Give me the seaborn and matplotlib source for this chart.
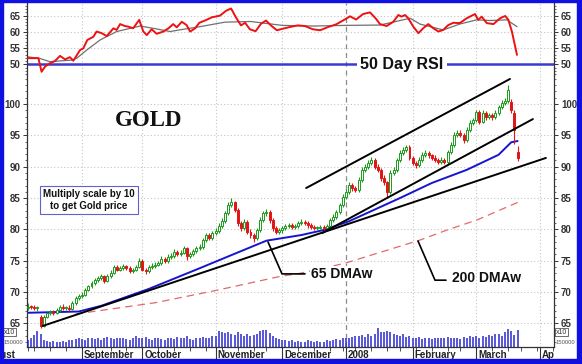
import numpy as np
import pandas as pd
import matplotlib
matplotlib.use('Agg')
import matplotlib.pyplot as plt
from matplotlib.patches import Rectangle
import seaborn as sns

# ---------------- data (price scale = gold / 10) ----------------
start_day = '2007-08-09'
end_day = '2008-04-10'
holidays = ['2007-09-03', '2007-11-22', '2007-12-25', '2008-01-01',
            '2008-01-21', '2008-02-18', '2008-03-21']
month_names = ['September', 'October', 'November', 'December',
               '2008', 'February', 'March', 'April']

opens = [67.5, 67.7, 67.6, 67.4, 66.0, 64.6, 66.1, 66.6, 66.8, 66.7,
         67.1, 67.7, 67.4, 67.5, 67.3, 68.2, 69.0, 69.3, 69.6, 70.4,
         70.9, 71.4, 71.9, 72.2, 72.5, 71.8, 72.6, 73.1, 74.0, 73.6,
         73.8, 74.1, 73.9, 73.4, 73.6, 74.0, 75.0, 73.6, 73.3, 74.0,
         74.2, 74.4, 74.6, 75.3, 75.0, 75.6, 75.8, 76.4, 76.0, 76.3,
         77.0, 75.7, 76.0, 76.5, 77.0, 77.2, 78.3, 79.1, 78.6, 79.4,
         79.8, 80.6, 81.4, 82.6, 83.9, 84.3, 83.1, 81.0, 80.2, 81.2,
         79.6, 79.1, 78.6, 79.9, 81.5, 82.6, 82.8, 81.5, 80.2, 79.6,
         79.9, 80.2, 80.5, 80.7, 80.4, 80.5, 81.0, 81.2, 81.0, 80.7,
         80.4, 80.2, 80.3, 80.4, 80.2, 80.6, 81.5, 82.0, 82.8, 83.9,
         85.2, 86.0, 87.1, 86.6, 86.3, 87.9, 89.5, 90.0, 90.6, 91.1,
         90.0, 89.5, 88.2, 87.5, 86.0, 89.0, 89.5, 91.0, 92.2, 92.7,
         93.1, 91.4, 90.6, 90.3, 91.1, 91.9, 92.2, 91.8, 91.4, 91.1,
         90.8, 91.1, 90.8, 92.3, 93.5, 95.1, 95.4, 95.1, 94.3, 95.9,
         97.0, 97.4, 98.7, 97.2, 98.6, 97.9, 98.2, 97.9, 98.6, 99.5,
         100.2, 100.5, 100.4, 98.6, 92.4]
closes = [67.7, 67.6, 67.4, 67.5, 64.6, 66.1, 66.6, 66.8, 66.7, 67.1,
          67.7, 67.4, 67.5, 67.3, 68.2, 69.0, 69.3, 69.6, 70.4, 70.9,
          71.4, 71.9, 72.2, 72.5, 71.8, 72.6, 73.1, 74.0, 73.6, 73.8,
          74.1, 73.9, 73.4, 73.6, 74.0, 75.0, 73.6, 73.3, 74.0, 74.2,
          74.4, 74.6, 75.3, 75.0, 75.6, 75.8, 76.4, 76.0, 76.3, 77.0,
          75.7, 76.0, 76.5, 77.0, 77.2, 78.3, 79.1, 78.6, 79.4, 79.8,
          80.6, 81.4, 82.6, 83.9, 84.3, 83.1, 81.0, 80.2, 81.2, 79.6,
          79.1, 78.6, 79.9, 81.5, 82.6, 82.8, 81.5, 80.2, 79.6, 79.9,
          80.2, 80.5, 80.7, 80.4, 80.5, 81.0, 81.2, 81.0, 80.7, 80.4,
          80.2, 80.3, 80.4, 80.2, 80.6, 81.5, 82.0, 82.8, 83.9, 85.2,
          86.0, 87.1, 86.6, 86.3, 87.9, 89.5, 90.0, 90.6, 91.1, 90.0,
          89.5, 88.2, 87.5, 86.0, 89.0, 89.5, 91.0, 92.2, 92.7, 93.1,
          91.4, 90.6, 90.3, 91.1, 91.9, 92.2, 91.8, 91.4, 91.1, 90.8,
          91.1, 90.8, 92.3, 93.5, 95.1, 95.4, 95.1, 94.3, 95.9, 97.0,
          97.4, 98.7, 97.2, 98.6, 97.9, 98.2, 97.9, 98.6, 99.5, 100.2,
          100.5, 102.2, 99.0, 95.9, 91.4]
highs = [68.2, 68.0, 67.9, 67.8, 66.4, 66.4, 66.9, 67.2, 67.1, 67.4,
         68.0, 68.1, 67.8, 67.9, 68.5, 69.3, 69.7, 70.0, 70.7, 71.2,
         71.7, 72.3, 72.6, 72.9, 72.8, 72.9, 73.5, 74.4, 74.3, 74.2,
         74.5, 74.4, 74.1, 73.9, 74.3, 75.4, 75.2, 73.9, 74.4, 74.6,
         74.8, 75.0, 75.7, 75.6, 76.0, 76.2, 76.8, 76.7, 76.7, 77.4,
         77.2, 76.4, 76.9, 77.4, 77.6, 78.6, 79.5, 79.4, 79.8, 80.2,
         81.0, 81.8, 83.0, 84.4, 85.0, 84.6, 83.4, 81.4, 81.7, 81.5,
         80.0, 79.4, 80.3, 81.9, 83.0, 83.3, 83.1, 81.8, 80.5, 80.3,
         80.6, 80.9, 81.1, 81.0, 80.9, 81.4, 81.6, 81.5, 81.3, 81.0,
         80.7, 80.6, 80.7, 80.7, 80.9, 81.8, 82.4, 83.1, 84.2, 85.6,
         86.4, 87.5, 87.4, 86.9, 88.3, 89.9, 90.4, 91.0, 91.6, 91.4,
         90.4, 89.8, 88.6, 87.8, 89.4, 89.9, 91.4, 92.6, 93.1, 93.5,
         93.4, 91.7, 90.9, 91.5, 92.3, 92.6, 92.5, 92.1, 91.8, 91.4,
         91.5, 91.4, 92.7, 93.9, 95.5, 95.8, 95.8, 95.4, 96.3, 97.4,
         97.8, 99.1, 99.0, 99.0, 98.9, 98.6, 98.5, 99.0, 99.9, 100.6,
         101.0, 103.0, 100.8, 99.0, 93.3]
lows = [67.2, 67.3, 67.1, 67.0, 64.3, 64.4, 65.8, 66.3, 66.4, 66.5,
        66.9, 67.1, 67.1, 67.0, 67.1, 67.9, 68.7, 69.0, 69.4, 70.1,
        70.6, 71.1, 71.6, 71.9, 71.4, 71.6, 72.3, 72.9, 73.3, 73.3,
        73.5, 73.6, 73.1, 73.1, 73.3, 73.8, 73.3, 72.9, 73.0, 73.7,
        73.9, 74.1, 74.3, 74.7, 74.7, 75.3, 75.5, 75.7, 75.7, 76.0,
        75.1, 75.4, 75.7, 76.2, 76.7, 76.9, 78.0, 78.3, 78.3, 79.1,
        79.5, 80.3, 81.1, 82.3, 83.5, 82.7, 80.6, 79.8, 79.9, 79.2,
        78.6, 78.0, 78.3, 79.6, 81.2, 82.2, 81.1, 79.8, 79.2, 79.2,
        79.5, 79.9, 80.2, 80.1, 80.1, 80.2, 80.7, 80.7, 80.3, 80.0,
        79.9, 79.9, 80.0, 79.9, 79.9, 80.3, 81.2, 81.7, 82.5, 83.6,
        84.9, 85.7, 86.2, 85.9, 86.0, 87.6, 89.1, 89.7, 90.3, 89.6,
        89.1, 87.8, 87.1, 85.0, 85.7, 88.6, 89.2, 90.7, 91.9, 92.3,
        91.0, 90.2, 89.8, 90.0, 90.8, 91.6, 91.4, 91.0, 90.7, 90.4,
        90.4, 90.4, 90.5, 92.0, 93.2, 94.8, 94.7, 93.8, 94.0, 95.6,
        96.6, 97.1, 96.8, 96.9, 97.5, 97.6, 97.5, 97.6, 98.3, 99.2,
        99.8, 100.2, 98.6, 93.6, 90.9]
volume = [55, 65, 90, 120, 100, 50, 45, 40, 45, 40,
          35, 45, 40, 50, 55, 60, 65, 60, 55, 65,
          70, 60, 65, 55, 70, 75, 65, 60, 70, 65,
          70, 60, 55, 65, 80, 70, 65, 75, 60, 55,
          65, 70, 60, 55, 65, 70, 60, 75, 65, 70,
          80, 60, 55, 65, 70, 75, 65, 70, 80, 85,
          120, 110, 105, 115, 100, 90, 110, 95, 85, 100,
          80, 90, 95, 120, 130, 125, 105, 85, 70, 60,
          55, 50, 45, 55, 40, 45, 35, 40, 50, 45,
          40, 45, 35, 40, 50, 45, 55, 60, 55, 70,
          65, 70, 75, 80, 85, 90, 75, 100, 85, 95,
          140, 110, 115, 120, 110, 100, 90, 80, 95, 75,
          80, 70, 65, 75, 60, 70, 65, 60, 70, 65,
          70, 65, 75, 70, 65, 70, 60, 75, 70, 80,
          75, 80, 70, 85, 75, 90, 80, 95, 100, 85,
          110, 135, 120, 90, 125]

# moving averages (trading-day position, value)
ma65_pos = [0, 16, 23, 38, 54, 64, 75, 86, 93, 101, 117, 127, 138, 148, 152, 154]
ma65_val = [66.7, 66.9, 67.8, 70.5, 73.8, 75.9, 78.2, 79.1, 79.9, 81.3,
            85.0, 87.4, 89.5, 91.9, 93.9, 94.1]
ma200_pos = [15, 40, 59.5, 79.3, 85.6, 99.7, 123.3, 131.8, 141.2, 154]
ma200_val = [66.5, 68.3, 70.3, 72.5, 73.0, 74.6, 78.3, 79.9, 81.5, 84.3]

# 50 day RSI and its smoothing
rsi_pos = [0, 3.3, 4.3, 5.4, 6.9, 8.5, 10.1, 11.7, 13.2, 14.3,
           16.4, 17.4, 18.7, 20.6, 21.6, 23.2, 24.8, 26.9, 27.9, 29.0,
           30.5, 31.6, 33.1, 35.0, 36.3, 37.4, 38.9, 40.5, 42.6, 44.2,
           45.7, 46.8, 48.4, 49.9, 51.0, 52.6, 53.9, 55.7, 57.9, 60.4,
           62.3, 63.9, 65.4, 67.0, 68.3, 69.8, 71.6, 73.3, 74.9, 76.4,
           78.3, 80.3, 82.4, 84.9, 87.1, 89.6, 91.9, 94.4, 96.9, 99.1,
           101.3, 103.2, 105.4, 107.6, 109.5, 110.7, 112.8, 114.9, 116.5, 117.5,
           118.6, 119.6, 121.2, 122.8, 124.3, 125.9, 127.5, 129.1, 130.6, 132.2,
           133.8, 135.8, 138.0, 140.6, 141.6, 142.7, 144.3, 146.4, 148.5, 150.1,
           151.1, 152.2, 153.8]
rsi_val = [51.9, 51.9, 47.7, 49.3, 50.3, 51.0, 52.6, 51.5, 52.2, 51.1,
           54.4, 54.9, 57.5, 58.5, 60.1, 59.6, 58.7, 61.1, 60.6, 62.4,
           61.8, 61.6, 61.1, 63.7, 60.1, 59.0, 60.8, 59.4, 60.1, 61.1,
           62.4, 61.4, 63.1, 62.1, 60.1, 61.1, 62.8, 63.5, 64.5, 65.0,
           66.5, 67.2, 64.5, 62.0, 62.8, 60.8, 60.2, 62.5, 63.5, 62.0,
           60.5, 61.0, 61.5, 62.0, 61.8, 60.8, 60.5, 61.5, 62.3, 63.5,
           64.8, 63.8, 65.5, 66.0, 64.0, 62.4, 61.8, 63.1, 65.2, 64.7,
           65.2, 64.2, 61.6, 59.6, 61.1, 62.4, 61.1, 60.1, 60.6, 62.1,
           62.8, 62.7, 64.2, 65.5, 63.7, 64.7, 62.7, 62.4, 64.2, 64.9,
           63.7, 60.1, 52.9]
sig_pos = [0, 3.8, 6.9, 13.8, 15.4, 18.5, 22.7, 27.9, 35.3, 39.4, 44.7, 48.9, 54.1,
           62, 70, 80, 90, 100, 110.7, 120.2, 123.3, 130.6, 135.8, 141.1, 145.3,
           150.6, 153.8]
sig_val = [52.3, 51.8, 50.8, 51.3, 51.9, 54.4, 57.5, 60.1, 61.8, 61.1, 60.1, 60.8, 61.6,
           63.0, 63.2, 62.0, 61.8, 62.0, 62.1, 64.2, 62.4, 60.6, 62.4, 63.7, 63.5,
           63.7, 61.6]

# hand drawn trend lines: (start pos, start value, end pos, end value)
trend_lines = [(4.65, 64.6, 162.9, 91.4),
               (92.5, 79.4, 158.8, 97.6),
               (87.5, 86.6, 151.6, 104.0)]

# ---------------- layout helpers ----------------
W, H = 582, 364
PX0, PXD = 27.9, 3.18  # pixel of first session, pixels per session


def px_axes(fig, x0, y0, x1, y1):
    return fig.add_axes([x0 / W, 1 - y1 / H, (x1 - x0) / W, (y1 - y0) / H])


def px_to_pos(px):
    return (px - PX0) / PXD


sns.set_theme(style='white')
plt.rcParams['font.family'] = ['Liberation Sans', 'DejaVu Sans']

days = pd.bdate_range(start_day, end_day)
days = days[~days.isin(pd.to_datetime(holidays))]
pos = np.arange(len(days))
ser = pd.Series(pos, index=days)
month_first = ser.groupby([days.year, days.month]).first().values[1:]
week_first = ser.groupby(days.to_period('W')).first().values

fig = plt.figure(figsize=(W / 100, H / 100), dpi=100)
fig.patch.set_facecolor('white')

ax_r = px_axes(fig, 27, 3, 554, 75)
ax_p = px_axes(fig, 27, 75, 554, 347)
ax_v = px_axes(fig, 27, 325, 554, 347)
ax_l = px_axes(fig, 0, 347, 554, 362)

xlim = (px_to_pos(27), px_to_pos(554))
grid_c = '#c4c4c4'
tick_c = '#333333'

# ---- common grid ----
for ax in (ax_r, ax_p):
    ax.set_xlim(xlim)
    for m, p in zip(month_names, month_first):
        if m == '2008':
            ax.axvline(p, color='#8c8c8c', lw=0.9, ls=(0, (4, 3)), zorder=0.5)
        else:
            ax.axvline(p, color=grid_c, lw=0.8, ls=(0, (1, 2)), zorder=0.5)

# ---- RSI panel ----
ax_r.set_ylim(46.7, 68.9)
for v in (55, 60, 65):
    ax_r.axhline(v, color=grid_c, lw=0.8, ls=(0, (1, 2)), zorder=0.5)
ax_r.axhline(50, color='#3a3ad0', lw=1.8, zorder=1)
sns.lineplot(x=sig_pos, y=sig_val, ax=ax_r, color='#707070', linewidth=0.9, zorder=2)
sns.lineplot(x=rsi_pos, y=rsi_val, ax=ax_r, color='#ee1111', linewidth=1.4, zorder=3)
ax_r.text(px_to_pos(402), 50, '50 Day RSI', ha='center', va='center', fontsize=11.5,
          fontweight='bold', color='#111111', zorder=5,
          bbox=dict(fc='white', ec='none', pad=2.5))
ax_r.set_yticks([50, 55, 60, 65], ['50', '55', '60', '65'], fontweight='bold')
ax_r.set_yticks(np.arange(47, 69, 1), minor=True)
ax_r.set_xticks([])
ax_r.spines['top'].set_visible(False)
ax_r.spines['bottom'].set_visible(False)

# ---- price panel ----
ax_p.set_ylim(61.24, 104.63)
for v in range(65, 105, 5):
    ax_p.axhline(v, color=grid_c, lw=0.8, ls=(0, (1, 2)), zorder=0.5)

sns.lineplot(x=ma200_pos, y=ma200_val, ax=ax_p, color='#e06a6a', linewidth=0.9,
             linestyle=(0, (6, 4)), zorder=2)
sns.lineplot(x=ma65_pos, y=ma65_val, ax=ax_p, color='#1515d0', linewidth=1.4, zorder=2)

o = np.array(opens)
c = np.array(closes)
hi = np.array(highs)
lo = np.array(lows)
x = pos[:len(c)]
up = c >= o
green, red = '#1c9a1c', '#e01515'
body_lo = np.minimum(o, c)
body_h = np.maximum(np.abs(c - o), 0.15)
ax_p.vlines(x[up], lo[up], hi[up], color=green, lw=0.8, zorder=3)
ax_p.vlines(x[~up], lo[~up], hi[~up], color=red, lw=0.8, zorder=3)
ax_p.bar(x[up], body_h[up], bottom=body_lo[up], width=0.62, facecolor='white',
         edgecolor=green, linewidth=0.7, zorder=4)
ax_p.bar(x[~up], body_h[~up], bottom=body_lo[~up], width=0.62, facecolor=red,
         edgecolor=red, linewidth=0.7, zorder=4)

for x0, y0, x1, y1 in trend_lines:
    ax_p.plot([x0, x1], [y0, y1], color='black', lw=1.4, zorder=5)

# labels for the averages with leader lines
ax_p.plot([px_to_pos(268), px_to_pos(282), px_to_pos(305)], [78.0, 72.9, 72.9],
          color='black', lw=1.2, zorder=5)
ax_p.text(px_to_pos(311), 72.95, '65 DMAw', ha='left', va='center', fontsize=10,
          fontweight='bold', color='#111111', zorder=6,
          bbox=dict(fc='white', ec='none', pad=0.5))
ax_p.plot([px_to_pos(418), px_to_pos(435), px_to_pos(446)], [78.15, 71.9, 71.9],
          color='black', lw=1.2, zorder=5)
ax_p.text(px_to_pos(452), 72.3, '200 DMAw', ha='left', va='center', fontsize=10,
          fontweight='bold', color='#111111', zorder=6)

ax_p.text(px_to_pos(149), 97.4, 'GOLD', ha='center', va='center', fontsize=16.5,
          fontweight='bold', family='Liberation Serif', color='#111111', zorder=6)
ax_p.text(px_to_pos(89), 84.7, 'Multiply scale by 10\nto get Gold price', ha='center',
          va='center', multialignment='center', fontsize=7, fontweight='bold',
          color='#111111', linespacing=1.25, zorder=6,
          bbox=dict(boxstyle='square,pad=0.35', fc='white', ec='#6060d0', lw=0.8))

ax_p.set_yticks(range(65, 105, 5), [str(v) for v in range(65, 105, 5)], fontweight='bold')
ax_p.set_yticks(np.arange(62, 105, 1), minor=True)
ax_p.set_xticks(month_first)
ax_p.set_xticklabels([])
ax_p.set_xticks(week_first, minor=True)
ax_p.spines['top'].set_visible(False)

for ax in (ax_r, ax_p):
    ax.set_facecolor('white')
    for s in ('left', 'right', 'bottom'):
        ax.spines[s].set_color('#333333')
        ax.spines[s].set_linewidth(0.9)
    ax.tick_params(axis='y', which='both', left=True, right=True, labelleft=True,
                   labelright=True, labelsize=7, colors=tick_c, pad=2)
    ax.tick_params(axis='y', which='major', length=3, width=0.7)
    ax.tick_params(axis='y', which='minor', length=1.5, width=0.5)
    ax.set_xlabel('')
    ax.set_ylabel('')
ax_p.tick_params(axis='x', which='major', bottom=True, length=11, width=0.8, color=tick_c)
ax_p.tick_params(axis='x', which='minor', bottom=True, length=3, width=0.6, color=tick_c)

# ---- volume ----
ax_v.patch.set_alpha(0)
ax_v.vlines(x, 0, volume, color='#2a2ad0', lw=1.1)
ax_v.set_xlim(xlim)
ax_v.set_ylim(0, 165)
ax_v.axis('off')

# ---- month labels strip ----
ax_l.set_xlim(px_to_pos(0), px_to_pos(554))
ax_l.set_ylim(0, 1)
ax_l.axis('off')
for m, p in zip(month_names, month_first):
    ax_l.text(p + 0.6, 0.45, m, ha='left', va='center', fontsize=7, fontweight='bold',
              color='#222222', clip_on=True)
ax_l.text(px_to_pos(16), 0.45, 'August', ha='right', va='center', fontsize=7,
          fontweight='bold', color='#222222', clip_on=True)

# volume scale marks
for xf in (3.5 / W, 556 / W):
    fig.text(xf, 1 - 332 / H, 'x10', ha='left', va='center', fontsize=5, color='#333333',
             bbox=dict(boxstyle='square,pad=0.12', fc='white', ec='#555555', lw=0.6))
    fig.text(xf, 1 - 342 / H, '150000', ha='left', va='center', fontsize=4.2, color='#555555')

# blue frame
blue = '#1010e0'
for x0, y0, w, h in ((0, 0, 3, H), (577, 0, 5, H), (0, 0, W, 2), (0, 359, W, 5)):
    fig.add_artist(Rectangle((x0 / W, 1 - (y0 + h) / H), w / W, h / H,
                             transform=fig.transFigure, color=blue, zorder=20))

fig.savefig('out.png', dpi=100, facecolor='white')
